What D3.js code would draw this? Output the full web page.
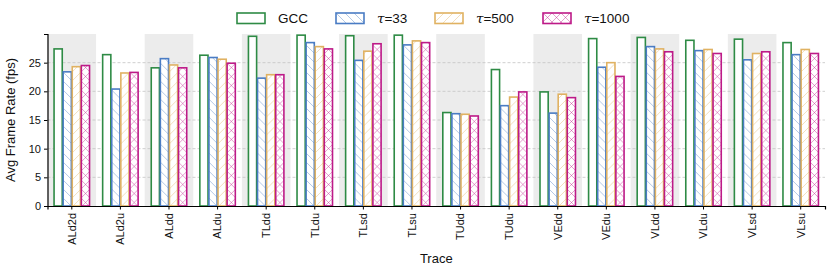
<!DOCTYPE html>
<html lang="en">
<head>
<meta charset="UTF-8">
<title>Avg Frame Rate per Trace</title>
<script src="https://d3js.org/d3.v7.min.js"></script>
<style>
  body { margin: 0; background: #fff; font-family: "Liberation Sans", Arial, sans-serif; }
  svg text { fill: #111; }
</style>
</head>
<body>
<div id="chart"></div>
<script>
// categories on the x axis
const traces = ["ALd2d", "ALd2u", "ALdd", "ALdu", "TLdd", "TLdu", "TLsd", "TLsu",
                "TUdd", "TUdu", "VEdd", "VEdu", "VLdd", "VLdu", "VLsd", "VLsu"];

// avg frame rate (fps)
const gcc     = [27.4, 26.4, 24.1, 26.3, 29.6, 29.8, 29.7, 29.8, 16.3, 23.8, 19.9, 29.2, 29.4, 28.9, 29.1, 28.5];
const tau33   = [23.4, 20.4, 25.7, 25.9, 22.3, 28.5, 25.4, 28.1, 16.1, 17.5, 16.2, 24.2, 27.8, 27.1, 25.5, 26.4];
const tau500  = [24.3, 23.2, 24.6, 25.6, 22.9, 27.8, 27.0, 28.8, 16.0, 19.0, 19.5, 25.0, 27.4, 27.3, 26.6, 27.3];
const tau1000 = [24.5, 23.3, 24.1, 24.9, 22.9, 27.4, 28.3, 28.5, 15.7, 19.9, 18.9, 22.6, 26.9, 26.6, 26.9, 26.6];

const yTicks = [0, 5, 10, 15, 20, 25];

const series = [
  { key: "GCC",    tau: null,   values: gcc,     color: "#2e8b45", hatch: null },
  { key: "t33",    tau: "33",   values: tau33,   color: "#4a7cc4", hatch: "back" },
  { key: "t500",   tau: "500",  values: tau500,  color: "#e0b262", hatch: "fwd" },
  { key: "t1000",  tau: "1000", values: tau1000, color: "#bd1a88", hatch: "cross" }
];

const width = 830, height = 274;
const margin = { top: 34, right: 5, bottom: 68, left: 47.5 };

const svg = d3.select("#chart").append("svg")
  .attr("width", width)
  .attr("height", height);

// hatch patterns
const defs = svg.append("defs");
const hs = 9;
series.forEach(s => {
  if (!s.hatch) return;
  const p = defs.append("pattern")
    .attr("id", "hatch-" + s.key)
    .attr("patternUnits", "userSpaceOnUse")
    .attr("width", hs).attr("height", hs);
  p.append("rect").attr("width", hs).attr("height", hs).attr("fill", "#fff");
  const lines = [];
  if (s.hatch === "back" || s.hatch === "cross") lines.push(`M-1,-1 L${hs + 1},${hs + 1} M-1,${hs - 1} L1,${hs + 1} M${hs - 1},-1 L${hs + 1},1`);
  if (s.hatch === "fwd" || s.hatch === "cross") lines.push(`M-1,${hs + 1} L${hs + 1},-1 M-1,1 L1,-1 M${hs - 1},${hs + 1} L${hs + 1},${hs - 1}`);
  p.append("path")
    .attr("d", lines.join(" "))
    .attr("stroke", s.color)
    .attr("stroke-opacity", 0.6)
    .attr("stroke-width", 0.7)
    .attr("fill", "none");
});

const x = d3.scaleBand()
  .domain(traces)
  .range([margin.left, width - margin.right])
  .padding(0);

const inner = d3.scaleBand()
  .domain(series.map(s => s.key))
  .range([0, x.bandwidth() * 0.73])
  .paddingInner(0.1);

const y = d3.scaleLinear()
  .domain([0, 30])
  .range([height - margin.bottom, margin.top]);

// alternating shaded bands
svg.append("g")
  .selectAll("rect")
  .data(traces.filter((d, i) => i % 2 === 0))
  .join("rect")
  .attr("x", d => x(d))
  .attr("y", margin.top)
  .attr("width", x.bandwidth())
  .attr("height", y(0) - margin.top)
  .attr("fill", "#ececec");

// grid
svg.append("g")
  .selectAll("line")
  .data(yTicks.slice(1))
  .join("line")
  .attr("x1", margin.left)
  .attr("x2", width - margin.right)
  .attr("y1", d => y(d))
  .attr("y2", d => y(d))
  .attr("stroke", "#c4c4c4")
  .attr("stroke-width", 0.8)
  .attr("stroke-dasharray", "3,2");

// bars
const groupOffset = (x.bandwidth() - x.bandwidth() * 0.73) / 2;
const groups = svg.append("g")
  .selectAll("g")
  .data(traces)
  .join("g")
  .attr("transform", d => `translate(${x(d) + groupOffset},0)`);

groups.selectAll("rect")
  .data((d, i) => series.map(s => ({ s, v: s.values[i] })))
  .join("rect")
  .attr("x", d => inner(d.s.key))
  .attr("y", d => y(d.v))
  .attr("width", inner.bandwidth())
  .attr("height", d => y(0) - y(d.v))
  .attr("fill", d => d.s.hatch ? `url(#hatch-${d.s.key})` : "#fff")
  .attr("stroke", d => d.s.color)
  .attr("stroke-width", 1.6);

// axes
const xAxis = svg.append("g")
  .attr("transform", `translate(0,${y(0)})`)
  .call(d3.axisBottom(x).tickSizeOuter(0).tickSize(3.5));
xAxis.select(".domain").attr("stroke", "#000").attr("stroke-width", 1.2);
xAxis.selectAll(".tick line").attr("stroke", "#000");
xAxis.selectAll(".tick text")
  .attr("font-size", 11)
  .attr("font-family", "Liberation Sans, Arial, sans-serif")
  .attr("transform", "rotate(-90)")
  .attr("text-anchor", "end")
  .attr("dy", "0.35em")
  .attr("x", -7)
  .attr("y", 0);

const yAxis = svg.append("g")
  .attr("transform", `translate(${margin.left},0)`)
  .call(d3.axisLeft(y).tickValues(yTicks).tickSizeOuter(0).tickSize(3.5));
yAxis.select(".domain").attr("stroke", "#000").attr("stroke-width", 1.2);
yAxis.selectAll(".tick line").attr("stroke", "#000");
yAxis.selectAll(".tick text")
  .attr("font-size", 11)
  .attr("font-family", "Liberation Sans, Arial, sans-serif");

// axis titles
svg.append("text")
  .attr("transform", `translate(15,${(margin.top + y(0)) / 2}) rotate(-90)`)
  .attr("text-anchor", "middle")
  .attr("font-size", 13)
  .text("Avg Frame Rate (fps)");

svg.append("text")
  .attr("x", (margin.left + width - margin.right) / 2)
  .attr("y", 263)
  .attr("text-anchor", "middle")
  .attr("font-size", 13)
  .text("Trace");

// legend
const legendX = [237, 336, 435, 543];
const legend = svg.append("g");
series.forEach((s, i) => {
  const g = legend.append("g").attr("transform", `translate(${legendX[i]},13)`);
  g.append("rect")
    .attr("width", 28).attr("height", 10.5)
    .attr("fill", s.hatch ? `url(#hatch-${s.key})` : "#fff")
    .attr("stroke", s.color)
    .attr("stroke-width", 1.6);
  const t = g.append("text")
    .attr("x", 41)
    .attr("y", 10)
    .attr("font-size", 13.5);
  if (s.tau) {
    t.append("tspan").attr("font-style", "italic").attr("font-family", "DejaVu Serif, serif").text("τ");
    t.append("tspan").text("=" + s.tau);
  } else {
    t.text(s.key);
  }
});
</script>
</body>
</html>
